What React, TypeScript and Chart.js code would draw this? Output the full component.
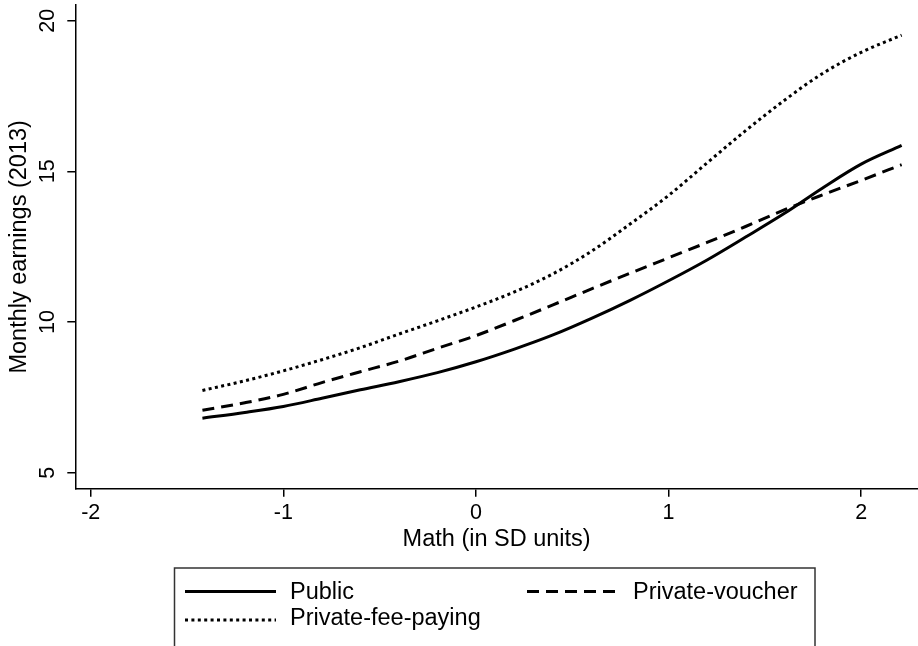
import React, { useEffect, useRef } from "react";
import { Chart, registerables } from "chart.js";

Chart.register(...registerables);

// ---------- data ----------
const mathSD = [-1.42, -1.2, -1.0, -0.8, -0.6, -0.4, -0.2, 0, 0.2, 0.4, 0.6, 0.8, 1.0, 1.2, 1.4, 1.6, 1.8, 2.0, 2.21];
const publicEarnings = [6.81, 7.0, 7.2, 7.47, 7.75, 8.02, 8.32, 8.68, 9.1, 9.57, 10.12, 10.72, 11.37, 12.06, 12.82, 13.6, 14.45, 15.24, 15.86];
const voucherEarnings = [7.07, 7.32, 7.6, 7.99, 8.35, 8.7, 9.13, 9.55, 10.05, 10.57, 11.1, 11.62, 12.13, 12.64, 13.17, 13.72, 14.22, 14.7, 15.22];
const feeEarnings = [7.73, 8.05, 8.38, 8.75, 9.15, 9.6, 10.04, 10.5, 11.0, 11.6, 12.35, 13.25, 14.2, 15.28, 16.35, 17.35, 18.25, 18.95, 19.52];

const seriesNames = ["Public", "Private-voucher", "Private-fee-paying"];
const xTicks = [-2, -1, 0, 1, 2];
const yTicks = [5, 10, 15, 20];
const xTitle = "Math (in SD units)";
const yTitle = "Monthly earnings (2013)";

// ---------- styles ----------
const FONT = '"Liberation Sans", Arial, Helvetica, sans-serif';
const TICK_SIZE = 21.5;
const TITLE_SIZE = 23.5;
const LEGEND_SIZE = 23.5;

const pts = (ys: number[]) => mathSD.map((x, i) => ({ x, y: ys[i] }));

const customDraw = {
  id: "customDraw",
  afterDraw(chart: any) {
    const ctx = chart.ctx as CanvasRenderingContext2D;
    const ys = chart.scales.y;
    ctx.save();
    // rotated y tick labels
    ctx.fillStyle = "#000";
    ctx.font = `${TICK_SIZE}px ${FONT}`;
    ctx.textAlign = "center";
    ctx.textBaseline = "alphabetic";
    yTicks.forEach((v) => {
      const py = ys.getPixelForValue(v);
      ctx.save();
      ctx.translate(53.5, py);
      ctx.rotate(-Math.PI / 2);
      ctx.fillText(String(v), 0, 0);
      ctx.restore();
    });

    // legend box
    ctx.strokeStyle = "#333";
    ctx.lineWidth = 1.5;
    ctx.setLineDash([]);
    ctx.strokeRect(174.5, 568, 640.5, 120);

    const items = [
      { ds: 0, lx: 185, tx: 290, cy: 591.5 },
      { ds: 1, lx: 527, tx: 633, cy: 591.5 },
      { ds: 2, lx: 185, tx: 290, cy: 618 },
    ];
    ctx.font = `${LEGEND_SIZE}px ${FONT}`;
    ctx.textAlign = "left";
    ctx.textBaseline = "middle";
    items.forEach((it) => {
      const d = chart.data.datasets[it.ds];
      ctx.save();
      ctx.strokeStyle = d.borderColor;
      ctx.lineWidth = d.borderWidth;
      ctx.lineCap = "butt";
      ctx.setLineDash(d.borderDash || []);
      ctx.beginPath();
      const ly = it.ds === 2 ? it.cy + 2 : it.cy;
      ctx.moveTo(it.lx, ly);
      ctx.lineTo(it.lx + 91, ly);
      ctx.stroke();
      ctx.restore();
      ctx.fillStyle = "#000";
      ctx.fillText(d.label, it.tx, it.cy + 1);
    });
    ctx.restore();
  },
};

export default function App() {
  const ref = useRef<HTMLCanvasElement>(null);
  useEffect(() => {
    const chart = new Chart(ref.current!, {
      type: "line",
      data: {
        datasets: [
          {
            label: seriesNames[0],
            data: pts(publicEarnings),
            borderColor: "#000",
            borderWidth: 3,
            pointRadius: 0,
            cubicInterpolationMode: "monotone",
            fill: false,
          },
          {
            label: seriesNames[1],
            data: pts(voucherEarnings),
            borderColor: "#000",
            borderWidth: 3,
            borderDash: [12, 7],
            pointRadius: 0,
            cubicInterpolationMode: "monotone",
            fill: false,
          },
          {
            label: seriesNames[2],
            data: pts(feeEarnings),
            borderColor: "#000",
            borderWidth: 3,
            borderDash: [3, 3.4],
            borderCapStyle: "butt",
            pointRadius: 0,
            cubicInterpolationMode: "monotone",
            fill: false,
          },
        ],
      },
      options: {
        responsive: false,
        animation: false,
        devicePixelRatio: 1,
        layout: { padding: { left: 0, right: 0, top: 5, bottom: 95 } },
        plugins: { legend: { display: false }, tooltip: { enabled: false } },
        scales: {
          x: {
            type: "linear",
            min: -2.08,
            max: 2.295,
            afterBuildTicks: (s: any) => {
              s.ticks = xTicks.map((v) => ({ value: v }));
            },
            afterFit: (s: any) => {
              s.height = 62.3;
            },
            ticks: {
              color: "#000",
              padding: 3,
              font: { family: FONT, size: TICK_SIZE },
              callback: (v: any) => String(v),
              maxRotation: 0,
              minRotation: 0,
            },
            grid: { drawOnChartArea: false, drawTicks: true, tickLength: 8, color: "#000", lineWidth: 1.5 },
            border: { display: true, color: "#000", width: 1.5 },
            title: {
              display: true,
              text: xTitle,
              color: "#000",
              font: { family: FONT, size: TITLE_SIZE, lineHeight: 1 },
              padding: { top: 0, bottom: 0 },
            },
          },
          y: {
            type: "linear",
            min: 4.469,
            max: 20.52,
            afterBuildTicks: (s: any) => {
              s.ticks = yTicks.map((v) => ({ value: v }));
            },
            afterFit: (s: any) => {
              s.width = 75.3;
            },
            ticks: { display: false },
            grid: { drawOnChartArea: false, drawTicks: true, tickLength: 8, color: "#000", lineWidth: 1.5 },
            border: { display: true, color: "#000", width: 1.5 },
            title: {
              display: true,
              text: yTitle,
              color: "#000",
              font: { family: FONT, size: TITLE_SIZE, lineHeight: 1 },
              padding: { top: 8, bottom: 0 },
            },
          },
        },
      },
      plugins: [customDraw],
    } as any);
    return () => chart.destroy();
  }, []);
  return (
    <div style={{ position: "absolute", left: 0, top: 0, width: 918, height: 646, background: "#fff" }}>
      <canvas ref={ref} width={918} height={646} style={{ display: "block", width: 918, height: 646 }} />
    </div>
  );
}
